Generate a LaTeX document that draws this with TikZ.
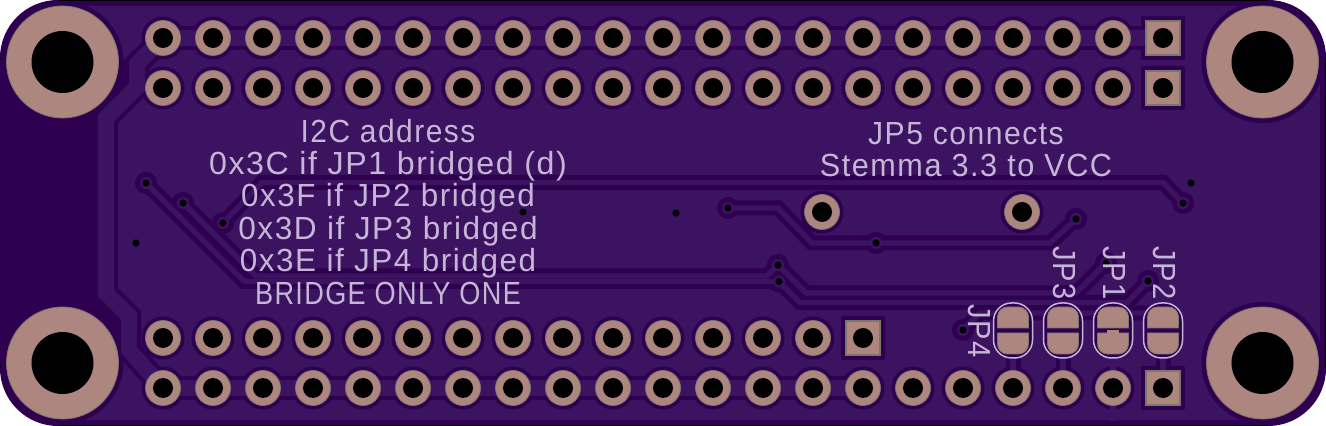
\documentclass[tikz,border=0pt]{standalone}
\usepackage{graphicx}
\usepackage{fontspec}
\newfontfamily\silkfont[LetterSpace=5]{Liberation Sans}
\definecolor{boardDark}{HTML}{2E004F}
\definecolor{pourLight}{HTML}{3C1360}
\definecolor{padPink}{HTML}{AE8680}
\definecolor{padEdge}{HTML}{7A776A}
\definecolor{silkInk}{HTML}{C6B6D6}
\tikzset{
  px/.style={x=0.5pt,y=-0.5pt},
  roundpad/.style={circle,fill=padPink,draw=padEdge,line width=0.4pt,inner sep=0pt,minimum size=17.5pt},
  squarepad/.style={rectangle,fill=padPink,draw=padEdge,line width=0.8pt,inner sep=0pt,minimum size=17pt},
  mounthole/.style={circle,fill=padPink,draw=padEdge,line width=0.4pt,inner sep=0pt,minimum size=56pt},
  drill/.style={circle,fill=black,inner sep=0pt,minimum size=10pt},
  bigdrill/.style={circle,fill=black,inner sep=0pt,minimum size=31pt},
  viadot/.style={circle,fill=black,inner sep=0pt,minimum size=3.6pt},
  clearR/.style={circle,fill=boardDark,inner sep=0pt,minimum size=21.5pt},
  clearS/.style={rectangle,fill=boardDark,rounded corners=1pt,inner sep=0pt,minimum size=22pt},
  clearV/.style={circle,fill=boardDark,inner sep=0pt,minimum size=11pt},
  landV/.style={circle,fill=pourLight,inner sep=0pt,minimum size=6pt},
  thinUnder/.style={draw=boardDark,line width=7.5pt,line join=miter},
  thinOver/.style={draw=pourLight,line width=2.7pt,line join=miter},
  fatUnder/.style={draw=boardDark,line width=12pt,line join=miter},
  fatOver/.style={draw=pourLight,line width=8pt,line join=miter},
  silk/.style={text=silkInk,font=\silkfont\fontsize{16}{16}\selectfont,inner sep=0pt,anchor=base},
  silkbox/.style={draw=silkInk,line width=0.75pt,rounded corners=9pt},
  jumpclear/.style={draw=boardDark,fill=boardDark,line width=4pt},
  jumppad/.style={fill=padPink,draw=padEdge,line width=0.4pt},
  edgeline/.style={draw=black,line width=0.6pt},
}
\begin{document}
\begin{tikzpicture}[px]
\useasboundingbox (0,0) rectangle (1326,426);
% board
\path[fill=boardDark,rounded corners=29pt] (0,0) rectangle (1326,426);
\path[edgeline] (58,0.5) -- (1268,0.5);
\path[edgeline] (58,425.5) -- (1268,425.5);
\path[edgeline] (0.5,58) -- (0.5,368);
\path[edgeline] (1325.5,58) -- (1325.5,368);
\path[fill=pourLight,rounded corners=27pt] (6,6) rectangle (1320,420);
\path[fill=boardDark] (0,60) -- (128,60) -- (128,85) -- (98,115) -- (98,295) -- (120,318) -- (120,365) -- (0,365) -- cycle;

% named anchors
\foreach \n/\x/\y in {va/146/183,vb/183/203,vc/223/223,vd/1183/203,ve/728/208,vf/876/243,vg/1076/219,
  vh/778/265,vi/779/281.5,vj/1106/263,vk/1148/281,vl/963/330}
  {\coordinate (\n) at (\x,\y);}
% clearances for the pads
\foreach \i in {0,...,19} {\node[clearR] at (163+50*\i,38) {}; \node[clearR] at (163+50*\i,88) {};}
\foreach \i in {0,...,13} {\node[clearR] at (163+50*\i,338) {};}
\foreach \i in {0,...,19} {\node[clearR] at (163+50*\i,388) {};}
\node[clearS] at (1163,38) {}; \node[clearS] at (1163,88) {};
\node[clearS] at (863,338) {}; \node[clearS] at (1163,388) {};
\node[clearR] at (822,212) {}; \node[clearR] at (1022,212) {};
\foreach \x/\y in {62.5/62,1262.5/62,62.5/363,1262.5/363}
  {\node[circle,fill=boardDark,inner sep=0pt,minimum size=61pt] at (\x,\y) {};}
\foreach \x/\y in {146/183,183/203,223/223,1183/203,728/208,876/243,1076/219,778/265,779/281.5,1106/263,1148/281,963/330}
  {\node[clearV] at (\x,\y) {};}

% connector geometry
\newcommand{\fattop}{(1163,38) -- (163,38) -- (137,64) -- (137,87) -- (106,118) -- (106,293) -- (129,316) -- (129,350) -- (163,388) -- (863,388)}
\newcommand{\tracea}{(vc) -- (262,182.5) -- (1163,182.5) -- (vd)}
\newcommand{\traceb}{(va) -- (244.5,281.5) -- (vi) -- (800,302.5) -- (1127,302.5) -- (vk)}
\newcommand{\tracec}{(vb) -- (256,276) -- (767,276) -- (vh) -- (806,293) -- (1076,293) -- (vj)}
\newcommand{\traced}{(ve) -- (778,208) -- (812,243) -- (vf) -- (1050,243) -- (vg)}
\newcommand{\tracee}{(vl) -- (980,313) -- (1150,313)}
\path[fatUnder] \fattop;
\path[thinUnder] \tracea; \path[thinUnder] \traceb; \path[thinUnder] \tracec; \path[thinUnder] \traced; \path[thinUnder] \tracee;
\foreach \x in {1013,1063,1163} {\path[thinUnder] (\x,350) -- (\x,388);}
\path[fatOver] \fattop;
\path[thinOver] \tracea; \path[thinOver] \traceb; \path[thinOver] \tracec; \path[thinOver] \traced; \path[thinOver] \tracee;
\foreach \x in {1013,1063,1163} {\path[thinOver] (\x,350) -- (\x,388);}
\path[thinOver] (1113,350) -- (1113,421);
\foreach \x/\y in {146/183,183/203,223/223,1183/203,728/208,876/243,1076/219,778/265,779/281.5,1106/263,1148/281,963/330}
  {\node[landV] at (\x,\y) {};}

% pads
\foreach \i in {0,...,19} {
  \node[roundpad] (t\i) at (163+50*\i,38) {}; \node[drill] at (163+50*\i,38) {};
  \node[roundpad] (u\i) at (163+50*\i,88) {}; \node[drill] at (163+50*\i,88) {};}
\foreach \i in {0,...,13} {\node[roundpad] (m\i) at (163+50*\i,338) {}; \node[drill] at (163+50*\i,338) {};}
\foreach \i in {0,...,19} {\node[roundpad] (b\i) at (163+50*\i,388) {}; \node[drill] at (163+50*\i,388) {};}
\foreach \n/\x/\y in {st/1163/38,su/1163/88,sm/863/338,sb/1163/388}
  {\node[squarepad] (\n) at (\x,\y) {}; \node[drill] at (\x,\y) {};}
\node[roundpad] (s1) at (822,212) {}; \node[drill] at (822,212) {};
\node[roundpad] (s2) at (1022,212) {}; \node[drill] at (1022,212) {};
\foreach \n/\x/\y in {h1/62.5/62,h2/1262.5/62,h3/62.5/363,h4/1262.5/363}
  {\node[mounthole] (\n) at (\x,\y) {}; \node[bigdrill] at (\x,\y) {};}

% vias
\foreach \x/\y in {146/183,183/203,223/223,1183/203,728/208,876/243,1076/219,778/265,779/281.5,1106/263,1148/281,963/330,
  523/212,676/213,136/243,1191/183}
  {\node[viadot] at (\x,\y) {};}

% solder jumpers
\foreach \x in {1013,1063,1113,1163} {
  \begin{scope}[shift={(\x,0)}]
    \path[jumpclear,rounded corners=6pt] (-15.5,307) rectangle (15.5,354);
    \path[jumppad] (-15.5,328) [rounded corners=5pt] -- (-15.5,307) -- (15.5,307) [sharp corners] -- (15.5,328) -- cycle;
    \path[jumppad] (-15.5,333) [rounded corners=5pt] -- (-15.5,354) -- (15.5,354) [sharp corners] -- (15.5,333) -- cycle;
    \path[silkbox] (-19.5,303) rectangle (19.5,358);
  \end{scope}
}
\path[fill=padPink] (1107,330) rectangle (1119,334);

% silkscreen text
\node[silk] (l1) at (388,143) {\scalebox{.935}[1]{I2C address}};
\node[silk] (l2) at (388,175) {\scalebox{1.005}[1]{0x3C if JP1 bridged (d)}};
\node[silk] (l3) at (388,207) {\scalebox{.98}[1]{0x3F if JP2 bridged}};
\node[silk] (l4) at (388,240) {\scalebox{.987}[1]{0x3D if JP3 bridged}};
\node[silk] (l5) at (388,272) {\scalebox{.983}[1]{0x3E if JP4 bridged}};
\node[silk] (l6) at (388,305) {\scalebox{.847}[1]{BRIDGE ONLY ONE}};
\node[silk] (r1) at (966,145) {\scalebox{.94}[1]{JP5 connects}};
\node[silk] (r2) at (966,177) {\scalebox{.957}[1]{Stemma 3.3 to VCC}};
\node[silk,rotate=-90] (j3) at (1053,273) {\scalebox{.91}[1]{JP3}};
\node[silk,rotate=-90] (j1) at (1103,273) {\scalebox{.91}[1]{JP1}};
\node[silk,rotate=-90] (j2) at (1153,273) {\scalebox{.91}[1]{JP2}};
\node[silk,rotate=-90] (j4) at (968,331) {\scalebox{.91}[1]{JP4}};
\end{tikzpicture}
\end{document}
